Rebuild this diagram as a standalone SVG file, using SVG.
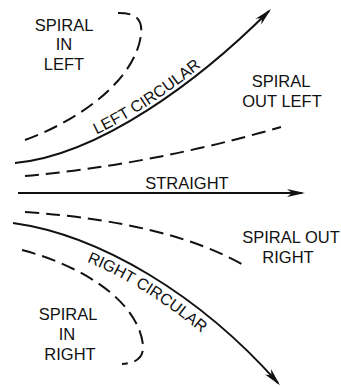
<svg xmlns="http://www.w3.org/2000/svg" width="341" height="387" viewBox="0 0 341 387">
  <style>
    .lbl { font-family: "Liberation Sans", Arial, sans-serif; font-size: 16.5px; fill: #111; text-anchor: middle; }
    .clbl { font-family: "Liberation Sans", Arial, sans-serif; font-size: 16px; fill: #111; }
    .solid { fill: none; stroke: #111; stroke-width: 2; }
    .dash { fill: none; stroke: #111; stroke-width: 2; stroke-dasharray: 14 7; }
  </style>
  <defs>
    <marker id="arrow" markerUnits="userSpaceOnUse" markerWidth="20" markerHeight="10" refX="15" refY="5" orient="auto" viewBox="0 0 20 10">
      <path d="M0,1 L18,5 L0,9 L5,5 Z" fill="#111"/>
    </marker>
    <path id="lcPath" d="M14.6,159 C99.6,151 197.2,77.2 268.2,6.2"/>
    <path id="rcPath" d="M10.7,240.8 C97.7,252.8 187.3,307.3 267.3,397.3"/>
  </defs>
  <rect x="0" y="0" width="341" height="387" fill="#fff"/>

  <g id="connectors">
    <path id="left-circular" class="solid" d="M15,163 C100,155 200,80 269,11" marker-end="url(#arrow)"/>
    <path id="straight" class="solid" d="M18,193 L302,193" marker-end="url(#arrow)"/>
    <path id="right-circular" class="solid" d="M13,223 C100,235 200,295 278,383" marker-end="url(#arrow)"/>
    <path id="spiral-in-left" class="dash" d="M25,140 C80,120 135,80 141,35 C143,18 135,13 118,13"/>
    <path id="spiral-out-left" class="dash" d="M25,176 Q150,165 281,127"/>
    <path id="spiral-out-right" class="dash" d="M25,212 Q170,222 247,267"/>
    <path id="spiral-in-right" class="dash" d="M22,250 C80,265 138,300 143,345 C144,358 136,363 122,364"/>
  </g>

  <g id="label-spiral-in-left">
    <text class="lbl" x="64" y="30.5">SPIRAL</text>
    <text class="lbl" x="64" y="50">IN</text>
    <text class="lbl" x="64" y="70">LEFT</text>
  </g>
  <g id="label-left-circular">
    <text class="clbl"><textPath href="#lcPath" startOffset="86">LEFT CIRCULAR</textPath></text>
  </g>
  <g id="label-spiral-out-left">
    <text class="lbl" x="281" y="87">SPIRAL</text>
    <text class="lbl" x="282" y="107">OUT LEFT</text>
  </g>
  <g id="label-straight">
    <text class="lbl" x="187" y="189">STRAIGHT</text>
  </g>
  <g id="label-spiral-out-right">
    <text class="lbl" x="291" y="243">SPIRAL OUT</text>
    <text class="lbl" x="288" y="263">RIGHT</text>
  </g>
  <g id="label-right-circular">
    <text class="clbl"><textPath href="#rcPath" startOffset="79">RIGHT CIRCULAR</textPath></text>
  </g>
  <g id="label-spiral-in-right">
    <text class="lbl" x="68" y="320">SPIRAL</text>
    <text class="lbl" x="67" y="340">IN</text>
    <text class="lbl" x="70" y="360">RIGHT</text>
  </g>
</svg>
